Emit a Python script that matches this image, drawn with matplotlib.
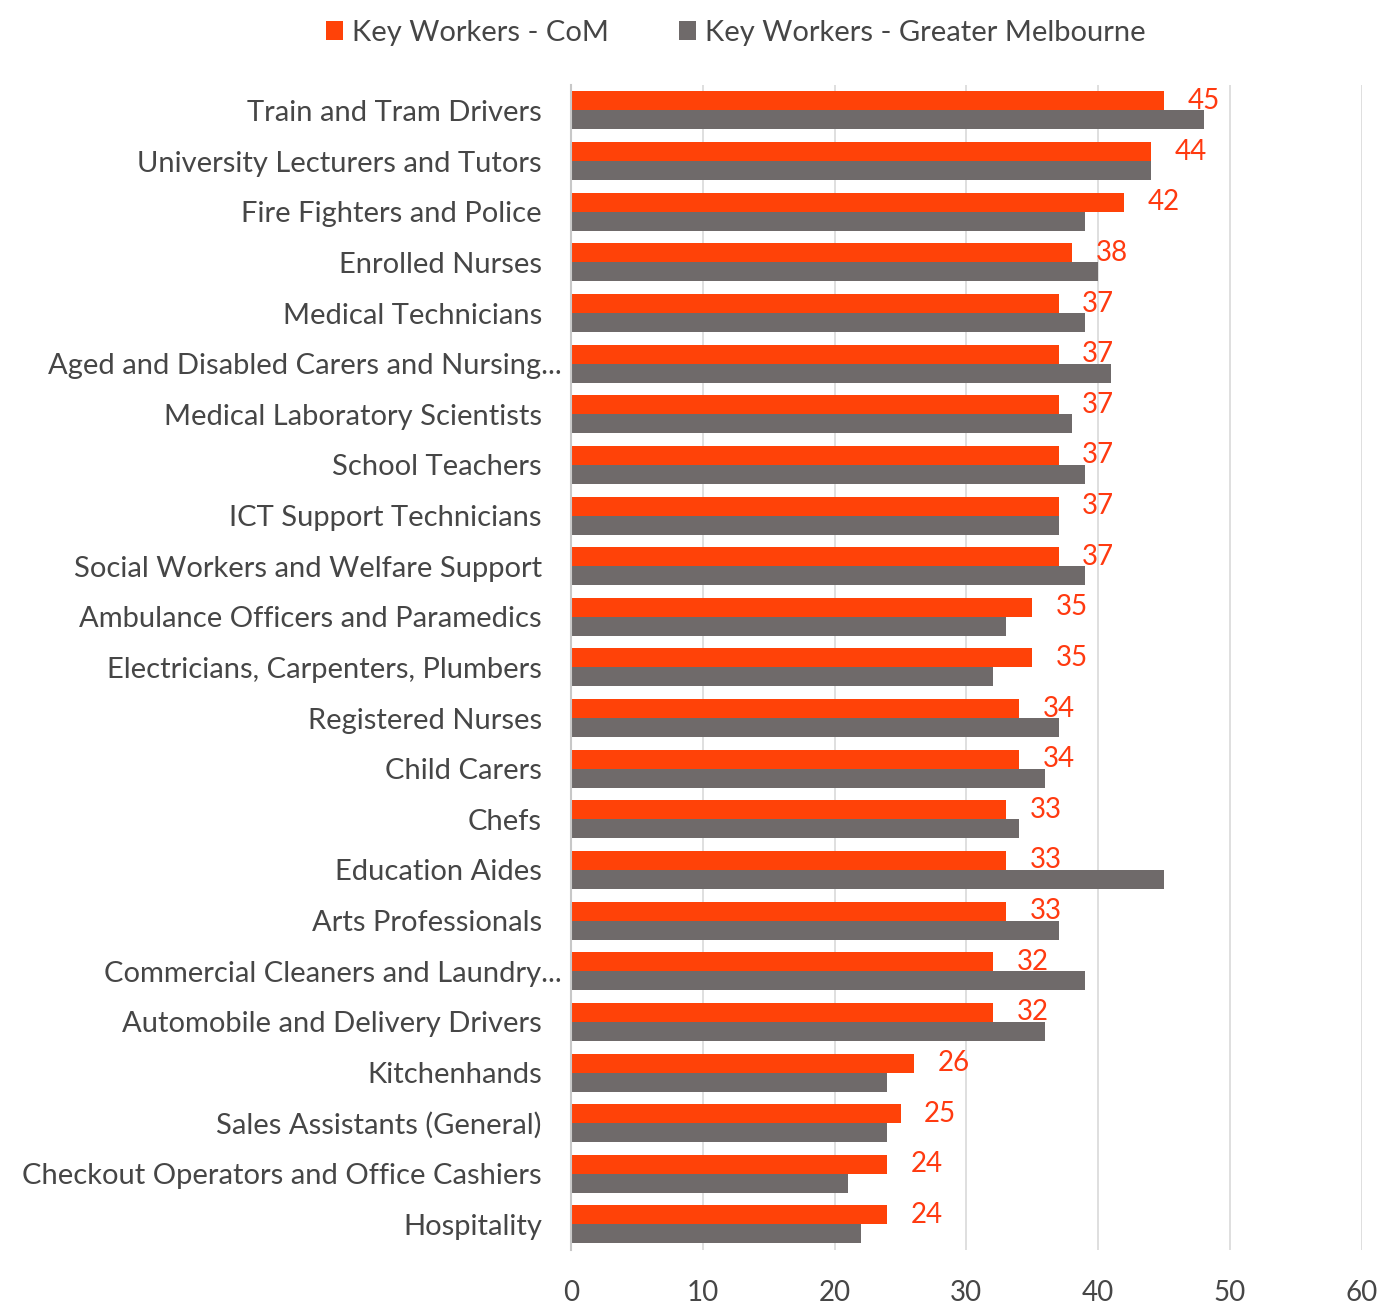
import matplotlib
matplotlib.use("Agg")
import matplotlib.pyplot as plt
import matplotlib.transforms as mtransforms
import numpy as np

plt.rcParams['font.family'] = ['Lato', 'DejaVu Sans']

categories = [
    "Train and Tram Drivers",
    "University Lecturers and Tutors",
    "Fire Fighters and Police",
    "Enrolled Nurses",
    "Medical Technicians",
    "Aged and Disabled Carers and Nursing...",
    "Medical Laboratory Scientists",
    "School Teachers",
    "ICT Support Technicians",
    "Social Workers and Welfare Support",
    "Ambulance Officers and Paramedics",
    "Electricians, Carpenters, Plumbers",
    "Registered Nurses",
    "Child Carers",
    "Chefs",
    "Education Aides",
    "Arts Professionals",
    "Commercial Cleaners and Laundry...",
    "Automobile and Delivery Drivers",
    "Kitchenhands",
    "Sales Assistants (General)",
    "Checkout Operators and Office Cashiers",
    "Hospitality",
]
com_values = [45, 44, 42, 38, 37, 37, 37, 37, 37, 37, 35, 35, 34, 34, 33, 33, 33, 32, 32, 26, 25, 24, 24]
melb_values = [48, 44, 39, 40, 39, 41, 38, 39, 37, 39, 33, 32, 37, 36, 34, 45, 37, 39, 36, 24, 24, 21, 22]
series_names = ["Key Workers - CoM", "Key Workers - Greater Melbourne"]
x_ticks = [0, 10, 20, 30, 40, 50, 60]

orange = "#FF4208"
grey = "#6F6A6A"
text_col = "#464646"

fig = plt.figure(figsize=(13.88, 13.10), dpi=100)
ax = fig.add_axes([0.4115, 0.046, 0.5695, 0.889])

n = len(categories)
y = np.arange(n)
h = 0.375
ax.barh(y - h / 2, com_values, height=h, color=orange, label=series_names[0], zorder=3)
ax.barh(y + h / 2, melb_values, height=h, color=grey, label=series_names[1], zorder=3)

for yi, v in zip(y, com_values):
    ax.annotate(f"{v}", xy=(v, yi - h / 2), xytext=(17, 0), textcoords="offset points",
                ha="left", va="center", color="#FF3A10", fontsize=20, zorder=4)

ax.set_ylim(n - 0.5, -0.5)
ax.set_xlim(0, 60)
ax.set_xticks(x_ticks)
ax.set_xticklabels([str(t) for t in x_ticks], fontsize=20, color=text_col)
ax.set_yticks(y)
ax.set_yticklabels(categories, fontsize=21, color=text_col)
ax.tick_params(axis="both", length=0)
ax.tick_params(axis="y", pad=21)
ax.tick_params(axis="x", pad=22)
ax.xaxis.grid(True, color="#D9D9D9", linewidth=1.2, zorder=0)
ax.set_axisbelow(True)
for side in ["top", "right", "bottom"]:
    ax.spines[side].set_visible(False)
ax.spines["left"].set_color("#C8C8C8")
ax.spines["left"].set_linewidth(1.5)
ax.spines["left"].set_zorder(5)

# truncated category names sit closer to the axis
shift = mtransforms.ScaledTranslation(0.2, 0, fig.dpi_scale_trans)
for lab in ax.get_yticklabels():
    if lab.get_text().endswith("..."):
        lab.set_transform(lab.get_transform() + shift)

leg = fig.legend(loc="upper center", bbox_to_anchor=(0.53, 1.005), ncol=2, frameon=False,
                 fontsize=21, handlelength=0.6, handleheight=0.6, handletextpad=0.3,
                 columnspacing=2.4)
for t in leg.get_texts():
    t.set_color(text_col)

fig.savefig("out.png", dpi=100, facecolor="white")
